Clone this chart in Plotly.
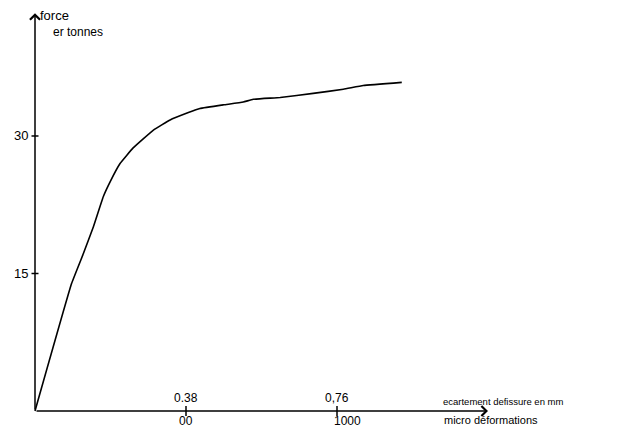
import plotly.graph_objects as go

# Data
crack_opening_mm = [0.0, 0.092, 0.122, 0.147, 0.172, 0.189, 0.214, 0.247, 0.298,
                    0.340, 0.386, 0.415, 0.475, 0.524, 0.549, 0.617, 0.700,
                    0.776, 0.826, 0.923]
force_t = [0.0, 13.9, 17.2, 20.1, 23.4, 25.0, 27.0, 28.7, 30.65,
           31.75, 32.55, 33.0, 33.4, 33.7, 34.0, 34.2, 34.65,
           35.1, 35.5, 35.85]

y_ticks = [15, 30]
y_tick_labels = ["15", "30"]
x_ticks = [0.38, 0.76]
x_tick_labels_top = ["0.38", "0,76"]
x_tick_labels_bottom = ["00", "1000"]

x_axis_end = 1.14
y_axis_end = 43.4

PAGE_OFF = 8              # default body margin of the html page
W, H = 626 - PAGE_OFF, 427 - PAGE_OFF
FONT = "Liberation Sans"


def px(xp):
    return (xp - PAGE_OFF) / W


def py(yp):
    return 1 - (yp - PAGE_OFF) / H


fig = go.Figure()

fig.add_trace(go.Scatter(
    x=crack_opening_mm, y=force_t, mode="lines",
    line=dict(color="black", width=1.6, shape="spline", smoothing=0.3),
    hoverinfo="skip", showlegend=False))

# tick marks
fig.add_trace(go.Scatter(
    x=[0] * len(y_ticks), y=y_ticks, mode="markers",
    marker=dict(symbol="line-ew", size=5, line=dict(color="black", width=1.5)),
    hoverinfo="skip", showlegend=False))
fig.add_trace(go.Scatter(
    x=x_ticks, y=[0] * len(x_ticks), mode="markers",
    marker=dict(symbol="line-ns", size=7, line=dict(color="black", width=1.5)),
    hoverinfo="skip", showlegend=False))

annotations = []
# axes with arrow heads
for (xe, ye) in [(0, y_axis_end), (x_axis_end, 0)]:
    annotations.append(dict(x=xe, y=ye, ax=0, ay=0, axref="x", ayref="y",
                            xref="x", yref="y", text="", showarrow=True,
                            arrowhead=4, arrowsize=1.3, arrowwidth=1.5,
                            arrowcolor="black", standoff=0))

for v, lab in zip(y_ticks, y_tick_labels):
    annotations.append(dict(x=0, y=v, xref="x", yref="y", text=lab,
                            showarrow=False, xanchor="right", yanchor="middle",
                            xshift=-5, font=dict(family=FONT, size=13, color="black")))
for v, lab in zip(x_ticks, x_tick_labels_top):
    annotations.append(dict(x=v, y=0, xref="x", yref="y", text=lab,
                            showarrow=False, xanchor="center", yanchor="middle",
                            yshift=13, font=dict(family=FONT, size=12, color="black")))
for i, (v, lab) in enumerate(zip(x_ticks, x_tick_labels_bottom)):
    annotations.append(dict(x=v, y=0, xref="x", yref="y", text=lab,
                            showarrow=False, xanchor="center", yanchor="middle",
                            yshift=-10, xshift=10 if i == 1 else 0,
                            font=dict(family=FONT, size=12, color="black")))

annotations += [
    dict(x=px(38), y=py(16), xref="paper", yref="paper", text="force",
         showarrow=False, xanchor="left", yanchor="middle",
         font=dict(family=FONT, size=13, color="black")),
    dict(x=px(51), y=py(32), xref="paper", yref="paper", text="er tonnes",
         showarrow=False, xanchor="left", yanchor="middle",
         font=dict(family=FONT, size=12, color="black")),
    dict(x=px(441), y=py(401), xref="paper", yref="paper",
         text="ecartement defissure en mm",
         showarrow=False, xanchor="left", yanchor="middle",
         font=dict(family=FONT, size=9.5, color="black")),
    dict(x=px(442), y=py(420), xref="paper", yref="paper",
         text="micro déformations",
         showarrow=False, xanchor="left", yanchor="middle",
         font=dict(family=FONT, size=11, color="black")),
]

# pixel mapping (page px): x = 35 + x/0.38*151 ; y = 411 - y*9.167
x0 = -(35 - PAGE_OFF) * 0.38 / 151
x1 = (626 - 35) * 0.38 / 151
y0 = (411 - 427) / 9.167
y1 = (411 - PAGE_OFF) / 9.167

fig.update_layout(
    width=W, height=H,
    margin=dict(l=0, r=0, t=0, b=0),
    paper_bgcolor="white", plot_bgcolor="white",
    xaxis=dict(range=[x0, x1], visible=False, fixedrange=True),
    yaxis=dict(range=[y0, y1], visible=False, fixedrange=True),
    annotations=annotations,
    showlegend=False,
)

fig.write_html("out.html")
